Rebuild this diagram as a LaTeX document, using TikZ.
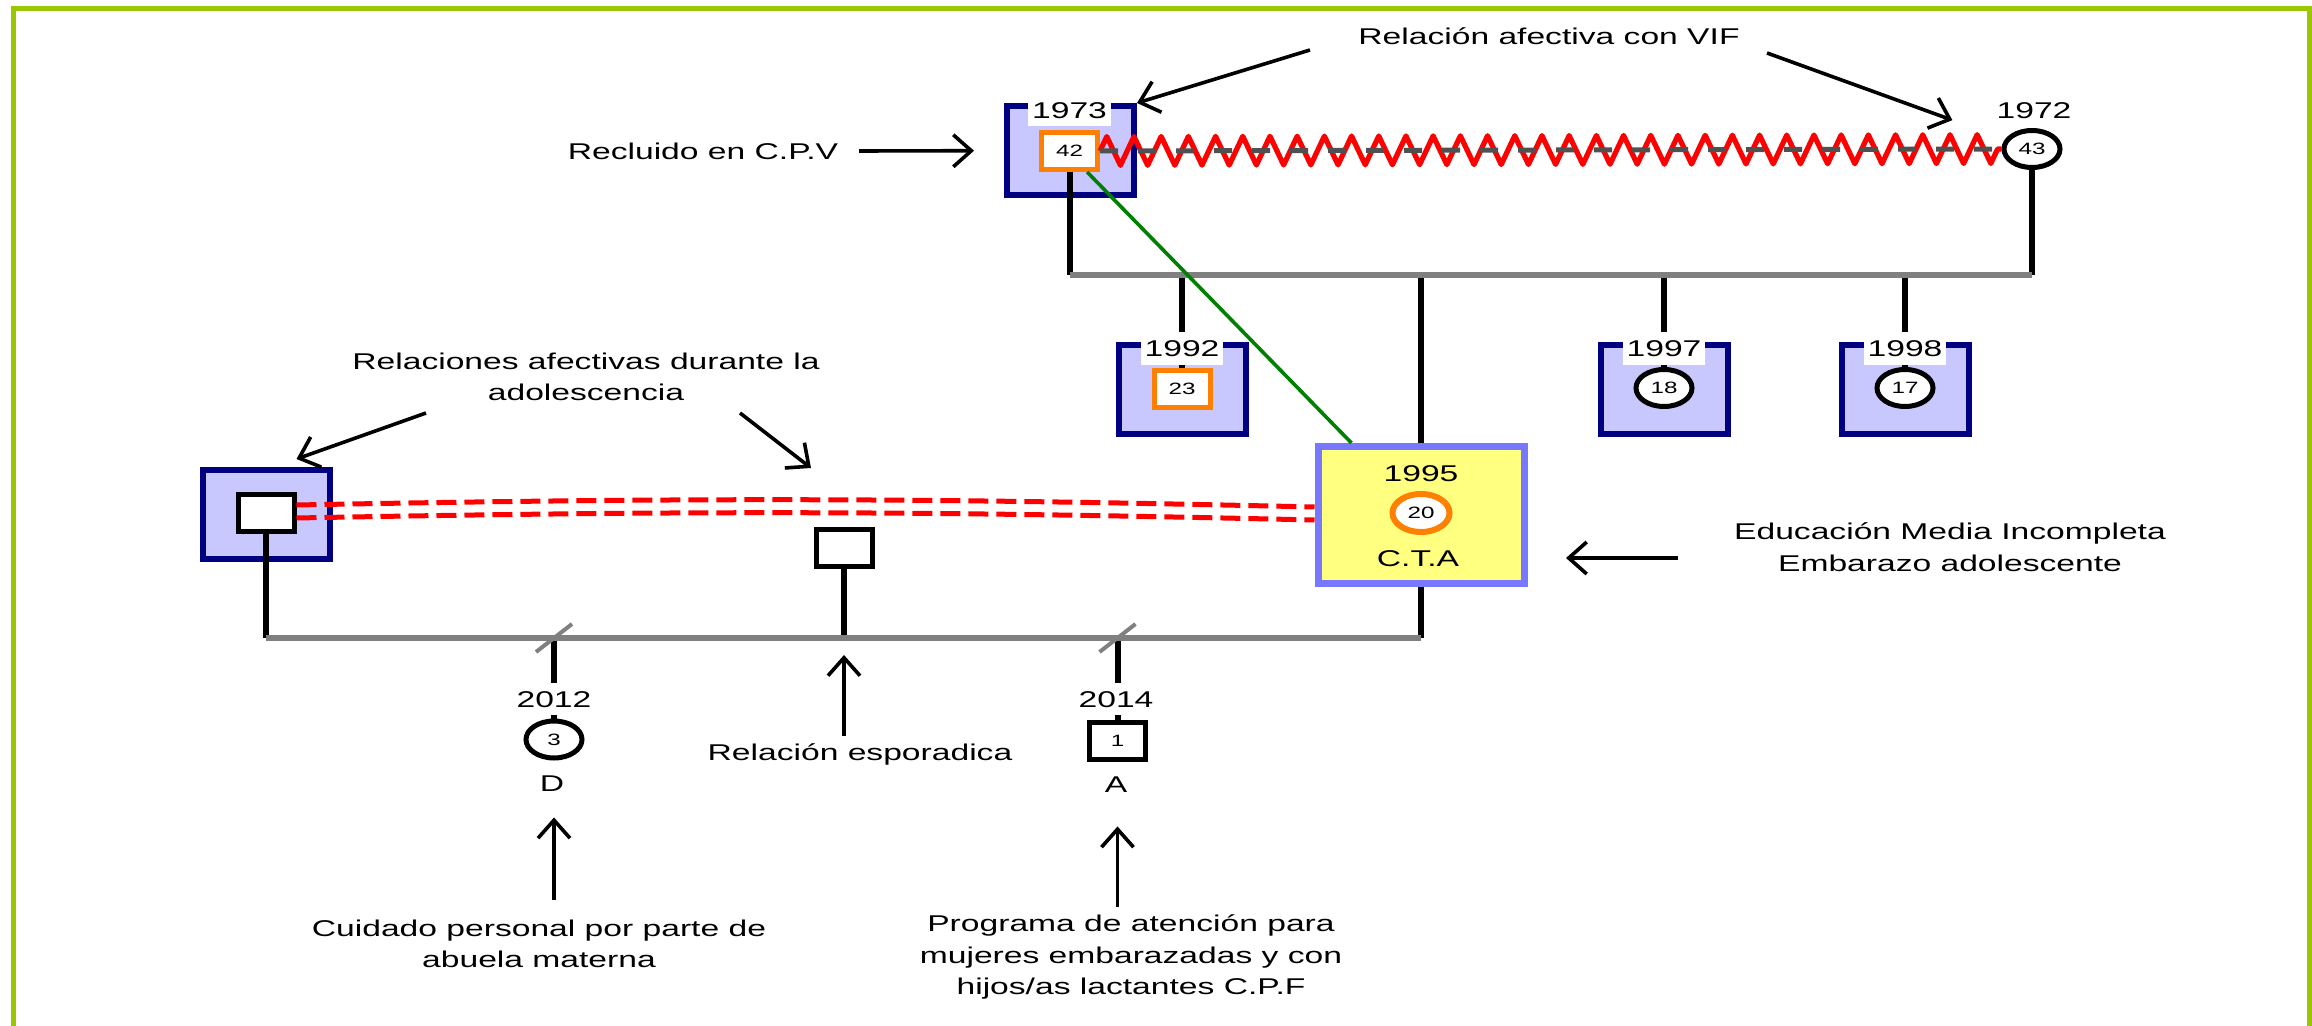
\documentclass[tikz,border=0pt]{standalone}
\usepackage{fontspec}
\setmainfont{Liberation Sans}[FakeStretch=1.4745]
\usetikzlibrary{shapes.geometric,arrows.meta,decorations.pathmorphing}
\definecolor{navy}{HTML}{000080}
\definecolor{lav}{HTML}{C8C8FF}
\definecolor{periw}{HTML}{7878FF}
\definecolor{pale}{HTML}{FFFF80}
\definecolor{orng}{HTML}{FF8000}
\definecolor{lime}{HTML}{99C800}
\definecolor{kingreen}{HTML}{008000}
\definecolor{sibgray}{HTML}{808080}
\definecolor{midgray}{HTML}{505050}
\newcommand{\numsize}{\fontsize{8.2}{9}\selectfont}
\begin{document}
\begin{tikzpicture}[x=0.5pt,y=-0.5pt,
        font=\fontsize{11.4}{15.8}\selectfont,
        pbox/.style={draw=navy,fill=lav,line width=3pt,minimum width=63.5pt,minimum height=44.5pt,inner sep=0pt},
        sq/.style={draw,fill=white,line width=2.5pt,minimum width=28pt,minimum height=18.5pt,inner sep=0pt,font=\numsize},
        circ/.style={ellipse,draw,fill=white,line width=2.5pt,minimum width=28pt,minimum height=18.5pt,inner sep=0pt,font=\numsize},
        yr/.style={fill=white,inner xsep=2pt,inner ysep=4pt,text height=8.2pt,text depth=0pt},
        note/.style={align=center,inner sep=0pt},
        kin/.style={line width=3pt},
        sib/.style={sibgray,line width=2.8pt},
        zz/.style={red,line width=2.6pt,line join=round,decorate,decoration={zigzag,amplitude=7.2pt,segment length=13.6pt}},
        ann/.style={line width=1.8pt,-{Straight Barb[length=9pt,width=16pt]}}]

        \useasboundingbox (0,0) rectangle (2312,1026);
        \draw[lime,line width=2.6pt] (13.5,1030) -- (13.5,8.5) -- (2310,8.5) -- (2310,1030);

        \node[pbox] (b1973) at (1070.5,150.5) {};
        \node[sq,draw=orng] (q42) at (1069.5,151) {42};
        \node[circ] (c43) at (2032,149) {43};
        \draw[zz] (q42.east) -- (c43.west);
        \draw[midgray,line width=2.5pt,dash pattern=on 9pt off 10pt] (q42.east) -- (c43.west);
        \node[yr] (y1973) at (1069.5,110) {1973};
        \node[text height=8.2pt,text depth=0pt] (y1972) at (2034,110) {1972};

        \coordinate (sibL) at (1069.5,275);
        \coordinate (sibR) at (2032,275);
        \draw[kin] (q42) -- (sibL);
        \draw[kin] (c43) -- (sibR);

        \foreach \yy/\px in {1992/1182,1997/1664,1998/1905}
            \node[pbox] (b\yy) at (\px,389.5) {};
        \node[sq,draw=orng] (q23) at (1182,389) {23};
        \node[circ] (c18) at (1664,388) {18};
        \node[circ] (c17) at (1905,388) {17};
        \foreach \k in {q23,c18,c17}
            \draw[kin] (\k |- sibL) -- (\k);
        \foreach \yy/\px in {1992/1182,1997/1664,1998/1905}
            \node[yr] (y\yy) at (\px,348.5) {\yy};

        \node[draw=periw,fill=pale,line width=3.5pt,minimum width=103pt,minimum height=68.5pt] (b1995) at (1421,515) {};
        \node[circ,draw=orng,line width=3pt,minimum width=28.5pt,minimum height=19pt] (c20) at (1421,513) {20};
        \node[text height=8.2pt,text depth=0pt] (y1995) at (1421,473) {1995};
        \node[anchor=base] (lCTA) at (1418,566) {C.T.A};
        \draw[kin] (b1995 |- sibL) -- (b1995);
        \draw[sib] (sibL) -- (sibR);
        \draw[kingreen,line width=1.8pt] (q42.-50) -- (b1995.134);

        \node[pbox] (bL) at (266,514.5) {};
        \node[sq] (mL) at (266,513) {};
        \node[sq] (mS) at (844,548) {};
        \draw[red,line width=2.5pt,dash pattern=on 10pt off 4pt] ([yshift=4pt]mL.east) to[bend left=1.2] ([yshift=4pt]b1995.west);
        \draw[red,line width=2.5pt,dash pattern=on 10pt off 4pt] ([yshift=-2.5pt]mL.east) to[bend left=1.2] ([yshift=-2.5pt]b1995.west);

        \coordinate (famL) at (266,638);
        \coordinate (famR) at (1421,638);
        \draw[kin] (mL) -- (famL);
        \draw[kin] (b1995) -- (famR);
        \draw[kin] (mS) -- (mS |- famL);

        \node[circ] (c3) at (554,739.5) {3};
        \node[sq] (q1) at (1117.5,741) {1};
        \coordinate (s3) at (c3 |- famL);
        \coordinate (s1) at (q1 |- famL);
        \draw[kin] (s3) -- (c3);
        \draw[kin] (s1) -- (q1);
        \draw[sib] (famL) -- (famR);
        \foreach \s in {s3,s1}
            \draw[sibgray,line width=2pt] ([shift={(-18,14)}]\s) -- ([shift={(18,-14)}]\s);
        \node[yr] (y2012) at (554,699) {2012};
        \node[yr] (y2014) at (1116,699) {2014};
        \node[anchor=base] (lD) at (552,791) {D};
        \node[anchor=base] (lA) at (1116,792) {A};

        \node[anchor=base] (lblVIF) at (1549,45) {Relación afectiva con VIF};
        \node[anchor=base] (lblRec) at (703,160) {Recluido en C.P.V};
        \node[note] (lblRel) at (586,377) {Relaciones afectivas durante la\\adolescencia};
        \node[note] (lblEdu) at (1950,547) {Educación Media Incompleta\\Embarazo adolescente};
        \node[anchor=base] (lblEsp) at (860,760) {Relación esporadica};
        \node[note] (lblCui) at (539,944) {Cuidado personal por parte de\\abuela materna};
        \node[note] (lblPro) at (1131,957) {Programa de atención para\\mujeres embarazadas y con\\hijos/as lactantes C.P.F};

        \coordinate (recT) at (859,151);
        \coordinate (vifT1) at (1310,50);
        \coordinate (vifT2) at (1767,53);
        \coordinate (relT1) at (426,413);
        \coordinate (relT2) at (740,413);
        \coordinate (eduT) at (1678,558);
        \coordinate (cuiT) at (554,900);
        \coordinate (proT) at (1117.5,907);
        \coordinate (sS) at (mS |- famL);

        \draw[ann,shorten >=15pt] (recT) -- (b1973);
        \draw[ann] (vifT1) -- (b1973.north east);
        \draw[ann,shorten >=28pt] (vifT2) -- (c43);
        \draw[ann] (relT1) -- ([shift={(-36,-8)}]bL.north east);
        \draw[ann] (relT2) -- ([shift={(-33,-59)}]mS.north);
        \draw[ann,shorten >=8.5pt] (lblEsp.north -| mS) -- (sS);
        \draw[ann,shorten >=19.25pt] (eduT) -- (eduT -| b1995.east);
        \draw[ann,shorten >=9.7pt] (cuiT) -- (cuiT |- lD.south);
        \draw[ann,shorten >=13.7pt] (proT) -- (proT |- lA.south);
    \end{tikzpicture}
\end{document}
